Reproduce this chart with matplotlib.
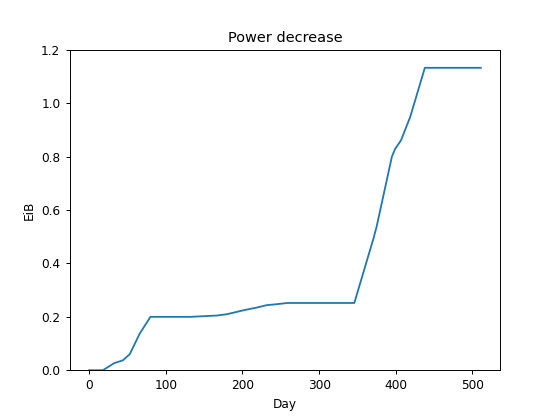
import matplotlib
matplotlib.use("Agg")
import matplotlib.pyplot as plt

# points (day, EiB)
days = [0, 18, 33, 44, 53, 66, 80, 132, 167, 180, 202, 219, 232, 240, 259,
        346, 371, 375, 395, 399, 407, 419, 438, 511]
eib = [0.0, 0.0, 0.027, 0.037, 0.06, 0.137, 0.2, 0.2, 0.205, 0.21, 0.225,
       0.235, 0.244, 0.246, 0.252, 0.252, 0.494, 0.537, 0.80, 0.828, 0.862,
       0.95, 1.133, 1.133]

s = 556 / 640
plt.rcParams['font.size'] = 10 * s
plt.rcParams['axes.titlesize'] = 12 * s
plt.rcParams['axes.linewidth'] = 0.8 * s
plt.rcParams['xtick.major.size'] = 3.5 * s
plt.rcParams['ytick.major.size'] = 3.5 * s
plt.rcParams['xtick.major.width'] = 0.8 * s
plt.rcParams['ytick.major.width'] = 0.8 * s

fig, ax = plt.subplots(figsize=(5.56, 4.16), dpi=100)
ax.plot(days, eib, linewidth=1.5 * s)
ax.set_ylim(0, 1.2)
ax.set_xlabel('Day')
ax.set_ylabel('EiB')
ax.set_title('Power decrease')
fig.savefig('out.png')
